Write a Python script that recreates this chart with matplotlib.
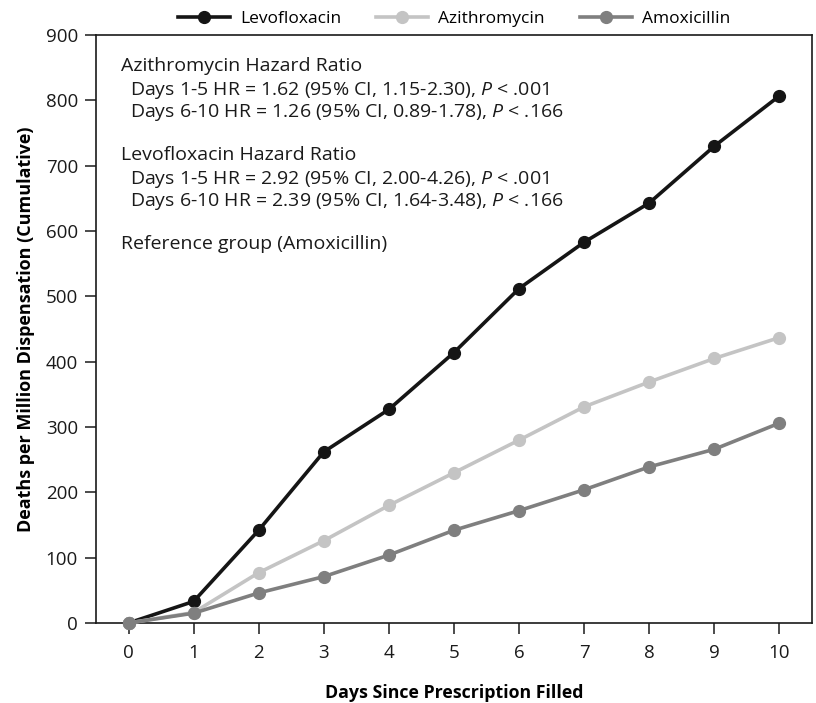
import matplotlib
matplotlib.use("Agg")
import matplotlib.pyplot as plt

days = [0, 1, 2, 3, 4, 5, 6, 7, 8, 9, 10]
levofloxacin = [0, 33, 142, 262, 327, 414, 512, 583, 643, 730, 807]
azithromycin = [0, 16, 77, 126, 180, 230, 280, 331, 369, 405, 437]
amoxicillin = [0, 15, 46, 71, 104, 142, 172, 204, 239, 266, 306]

series_names = ["Levofloxacin", "Azithromycin", "Amoxicillin"]
series_colors = ["#151515", "#c4c4c4", "#7f7f7f"]

annotation_lines = [
    ("Azithromycin Hazard Ratio", False),
    ("Days 1-5 HR = 1.62 (95% CI, 1.15-2.30), $\\mathit{P}$ < .001", True),
    ("Days 6-10 HR = 1.26 (95% CI, 0.89-1.78), $\\mathit{P}$ < .166", True),
    ("", False),
    ("Levofloxacin Hazard Ratio", False),
    ("Days 1-5 HR = 2.92 (95% CI, 2.00-4.26), $\\mathit{P}$ < .001", True),
    ("Days 6-10 HR = 2.39 (95% CI, 1.64-3.48), $\\mathit{P}$ < .166", True),
    ("", False),
    ("Reference group (Amoxicillin)", False),
]

plt.rcParams['font.family'] = ['Open Sans', 'DejaVu Sans']
plt.rcParams['mathtext.fontset'] = 'custom'
plt.rcParams['mathtext.it'] = 'Open Sans:italic'
plt.rcParams['mathtext.rm'] = 'Open Sans'

fig = plt.figure(figsize=(8.16, 7.03), dpi=100)
ax = fig.add_axes([0.1176, 0.1138, 0.8774, 0.8362])

for vals, name, col in zip([levofloxacin, azithromycin, amoxicillin], series_names, series_colors):
    ax.plot(days, vals, color=col, lw=2.6, marker='o', markersize=8.5,
            label=name, clip_on=False, zorder=3)

ax.set_xlim(-0.5, 10.5)
ax.set_ylim(0, 900)
ax.set_xticks(days)
ax.set_yticks(range(0, 901, 100))
ax.tick_params(direction='out', length=8, width=1.1, labelsize=13.5, pad=5, colors='#1a1a1a')
ax.tick_params(axis='x', pad=7)
for s in ax.spines.values():
    s.set_linewidth(1.2)
    s.set_color('#1a1a1a')

ax.set_xlabel("Days Since Prescription Filled", fontsize=12.8, fontweight='bold', labelpad=16)
ax.set_ylabel("Deaths per Million Dispensation (Cumulative)", fontsize=13, fontweight='bold', labelpad=8)

y0 = 0.962
dy = 0.0378
for i, (txt, indent) in enumerate(annotation_lines):
    if not txt:
        continue
    ax.text(0.035 + (0.013 if indent else 0), y0 - i * dy, txt, transform=ax.transAxes,
            fontsize=14, va='top', ha='left', color='#1a1a1a')

ax.legend(loc='lower center', bbox_to_anchor=(0.5, 1.008), ncol=3, frameon=False,
          fontsize=12.5, handlelength=3.0, columnspacing=2.0, handletextpad=0.6,
          borderaxespad=0.0, borderpad=0.2)

fig.savefig("out.png", dpi=100)
